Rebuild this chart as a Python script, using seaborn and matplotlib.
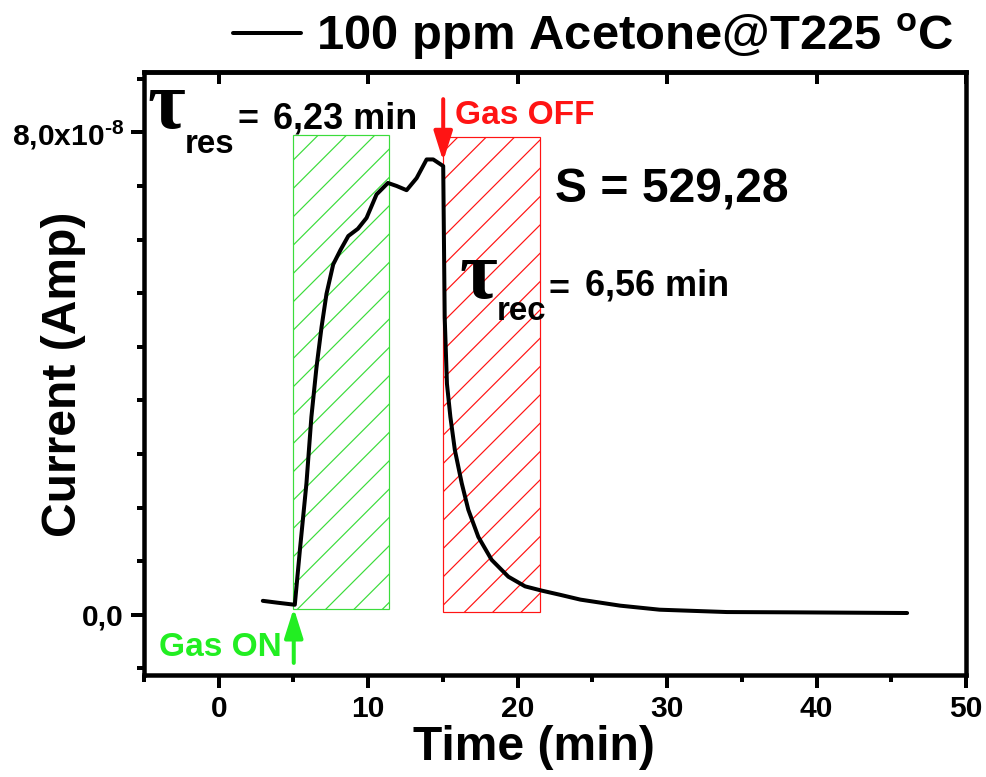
import matplotlib
matplotlib.use("Agg")
import matplotlib.pyplot as plt
import seaborn as sns
import pandas as pd
from matplotlib.patches import Rectangle
from matplotlib.ticker import FixedLocator, FixedFormatter, NullLocator

DPI = 85
def pt(px):
    return px * 72.0 / DPI

# ---------------- data ----------------
time_min = [2.95, 3.90, 5.09, 5.43, 5.87, 6.20, 6.54, 6.88, 7.21, 7.66, 8.15,
             8.67, 9.31, 9.89, 10.56, 11.32, 11.90, 12.57, 13.24, 13.91, 14.35,
             15.02, 15.12, 15.27, 15.50, 15.80, 16.26, 16.70, 17.37, 18.26,
             19.38, 20.50, 21.60, 22.84, 24.20, 26.86, 29.50, 34.00, 38.50, 46.06]
current_e8 = [0.23, 0.20, 0.165, 1.07, 2.18, 3.28, 4.10, 4.77, 5.32, 5.81, 6.05,
              6.28, 6.40, 6.58, 6.97, 7.16, 7.11, 7.04, 7.24, 7.55, 7.55,
              7.44, 4.93, 3.83, 3.28, 2.73, 2.18, 1.74, 1.29, 0.91,
              0.63, 0.47, 0.40, 0.33, 0.25, 0.15, 0.083, 0.044, 0.039, 0.028]
SCALE = 1e-8

series_label = r"100 ppm Acetone@T225 $^{\mathrm{o}}$C"

# response / recovery windows  (x0, x1, y0, y1) in min / 1e-8 A
res_box = [4.96, 11.39, 0.09, 7.96]
rec_box = [15.01, 21.51, 0.05, 7.92]

gas_on_x, gas_on_y = 5.02, [-0.80, 0.11]
gas_off_x, gas_off_y = 15.02, [8.55, 7.52]

tau_res = "6,23 min"
tau_rec = "6,56 min"
sensitivity = "S = 529,28"

xticks = [0, 10, 20, 30, 40, 50]
xtick_labels = ["0", "10", "20", "30", "40", "50"]
xminor = [-5, 5, 15, 25, 35, 45]
yticks = [0.0, 8.0e-8]
ytick_labels = ["0,0", r"8,0x10$^{\text{-8}}$"]

GREEN = "#22EE22"
HATCH_GREEN = "#3CDC3C"
RED = "#FF1414"

# ---------------- style ----------------
sns.set_theme(style="white")
plt.rcParams["font.family"] = ["Liberation Sans", "DejaVu Sans"]
plt.rcParams["font.weight"] = "bold"
plt.rcParams["text.color"] = "black"
plt.rcParams["axes.labelcolor"] = "black"
plt.rcParams["xtick.color"] = "black"
plt.rcParams["ytick.color"] = "black"
plt.rcParams["mathtext.fontset"] = "custom"
plt.rcParams["mathtext.rm"] = "Liberation Sans:bold"
plt.rcParams["mathtext.bf"] = "Liberation Sans:bold"
plt.rcParams["mathtext.it"] = "Liberation Sans:bold"
plt.rcParams["mathtext.default"] = "rm"
plt.rcParams["hatch.linewidth"] = pt(1.2)

fig = plt.figure(figsize=(986 / DPI, 777 / DPI), dpi=DPI)
ax = fig.add_axes([144 / 986, 1 - 675 / 777, 822 / 986, 603 / 777])

df = pd.DataFrame({"Time (min)": time_min,
                   "Current (Amp)": [v * SCALE for v in current_e8]})
sns.lineplot(data=df, x="Time (min)", y="Current (Amp)", sort=False,
             estimator=None, color="black", lw=pt(4), label=series_label,
             ax=ax, zorder=3)

for box, col in ((res_box, HATCH_GREEN), (rec_box, RED)):
    x0, x1, y0, y1 = box
    ax.add_patch(Rectangle((x0, y0 * SCALE), x1 - x0, (y1 - y0) * SCALE,
                           fill=False, hatch="/", edgecolor=col,
                           lw=pt(1.2), zorder=1))

# arrows
ax.annotate("", xy=(gas_on_x, gas_on_y[1] * SCALE), xytext=(gas_on_x, gas_on_y[0] * SCALE),
            arrowprops=dict(arrowstyle="-|>,head_length=1.05,head_width=0.33",
                            color=GREEN, lw=pt(4), mutation_scale=20,
                            shrinkA=0, shrinkB=0), zorder=4)
ax.annotate("", xy=(gas_off_x, gas_off_y[1] * SCALE), xytext=(gas_off_x, gas_off_y[0] * SCALE),
            arrowprops=dict(arrowstyle="-|>,head_length=1.05,head_width=0.33",
                            color=RED, lw=pt(4), mutation_scale=20,
                            shrinkA=0, shrinkB=0), zorder=4)

# texts
K = dict(color="black", fontweight="bold")
tau_font = dict(family=["Liberation Serif", "DejaVu Serif"], weight="bold", size=pt(82))
ax.text(-4.80, 8.07e-8, "τ", ha="left", va="baseline", color="black", **tau_font)
ax.text(-2.28, 7.65e-8, "res", ha="left", va="baseline", fontsize=pt(33), **K)
ax.text(1.27, 8.04e-8, "=", ha="left", va="baseline", fontsize=pt(36), **K)
ax.text(3.62, 8.07e-8, tau_res, ha="left", va="baseline", fontsize=pt(36), **K)

ax.text(16.10, 5.26e-8, "τ", ha="left", va="baseline", color="black", **tau_font)
ax.text(18.62, 4.88e-8, "rec", ha="left", va="baseline", fontsize=pt(33), **K)
ax.text(22.04, 5.22e-8, "=", ha="left", va="baseline", fontsize=pt(36), **K)
ax.text(24.51, 5.29e-8, tau_rec, ha="left", va="baseline", fontsize=pt(36), **K)

ax.text(22.5, 6.83e-8, sensitivity, ha="left", va="baseline", fontsize=pt(48), **K)
ax.text(15.81, 8.13e-8, "Gas OFF", ha="left", va="baseline", fontsize=pt(33.5),
        fontweight="bold", color=RED)
ax.text(-4.02, -0.69e-8, "Gas ON", ha="left", va="baseline", fontsize=pt(33.5),
        fontweight="bold", color=GREEN)

# axes limits & ticks
ax.set_xlim(-5, 50)
ax.set_ylim(-1e-8, 9e-8)
ax.xaxis.set_major_locator(FixedLocator(xticks))
ax.xaxis.set_major_formatter(FixedFormatter(xtick_labels))
ax.xaxis.set_minor_locator(FixedLocator(xminor))
ax.yaxis.set_major_locator(FixedLocator(yticks))
ax.yaxis.set_major_formatter(FixedFormatter(ytick_labels))
ax.yaxis.set_minor_locator(FixedLocator([k * 8e-8 / 9 for k in (-1, 1, 2, 3, 4, 5, 6, 7, 8, 10)]))

ax.tick_params(axis="both", which="major", direction="out", length=pt(13), width=pt(4),
               color="black", labelsize=pt(30), labelcolor="black",
               bottom=True, left=True, top=False, right=False)
ax.tick_params(axis="x", which="major", pad=pt(7))
ax.tick_params(axis="y", which="major", pad=pt(7))
ax.tick_params(axis="both", which="minor", direction="out", length=pt(7), width=pt(4),
               color="black", bottom=True, left=True, top=False, right=False)

for s in ax.spines.values():
    s.set_color("black")
    s.set_linewidth(pt(4.5))
    s.set_visible(True)

sec = ax.secondary_xaxis("top")
sec.xaxis.set_major_locator(FixedLocator(xticks))
sec.xaxis.set_minor_locator(NullLocator())
sec.tick_params(axis="x", which="major", direction="in", length=pt(12), width=pt(4),
                color="black", labeltop=False, top=True)
sec.spines["top"].set_linewidth(pt(4.5))
sec.spines["top"].set_color("black")

ax.set_xlabel("Time (min)", fontsize=pt(48), fontweight="bold", va="center", color="black")
ax.set_ylabel("Current (Amp)", fontsize=pt(48), fontweight="bold", va="center", color="black")
ax.xaxis.set_label_coords((534 - 144) / 822, (675 - 748) / 603)
ax.yaxis.set_label_coords((64 - 144) / 822, (675 - 374) / 603)

leg = ax.legend(loc="center", bbox_to_anchor=(593 / 986, 1 - 37 / 777),
                bbox_transform=fig.transFigure, frameon=False,
                prop={"weight": "bold", "size": pt(49)}, handlelength=1.4,
                handletextpad=0.3, borderpad=0, borderaxespad=0)
for t in leg.get_texts():
    t.set_color("black")

fig.savefig("out.png", dpi=DPI)
